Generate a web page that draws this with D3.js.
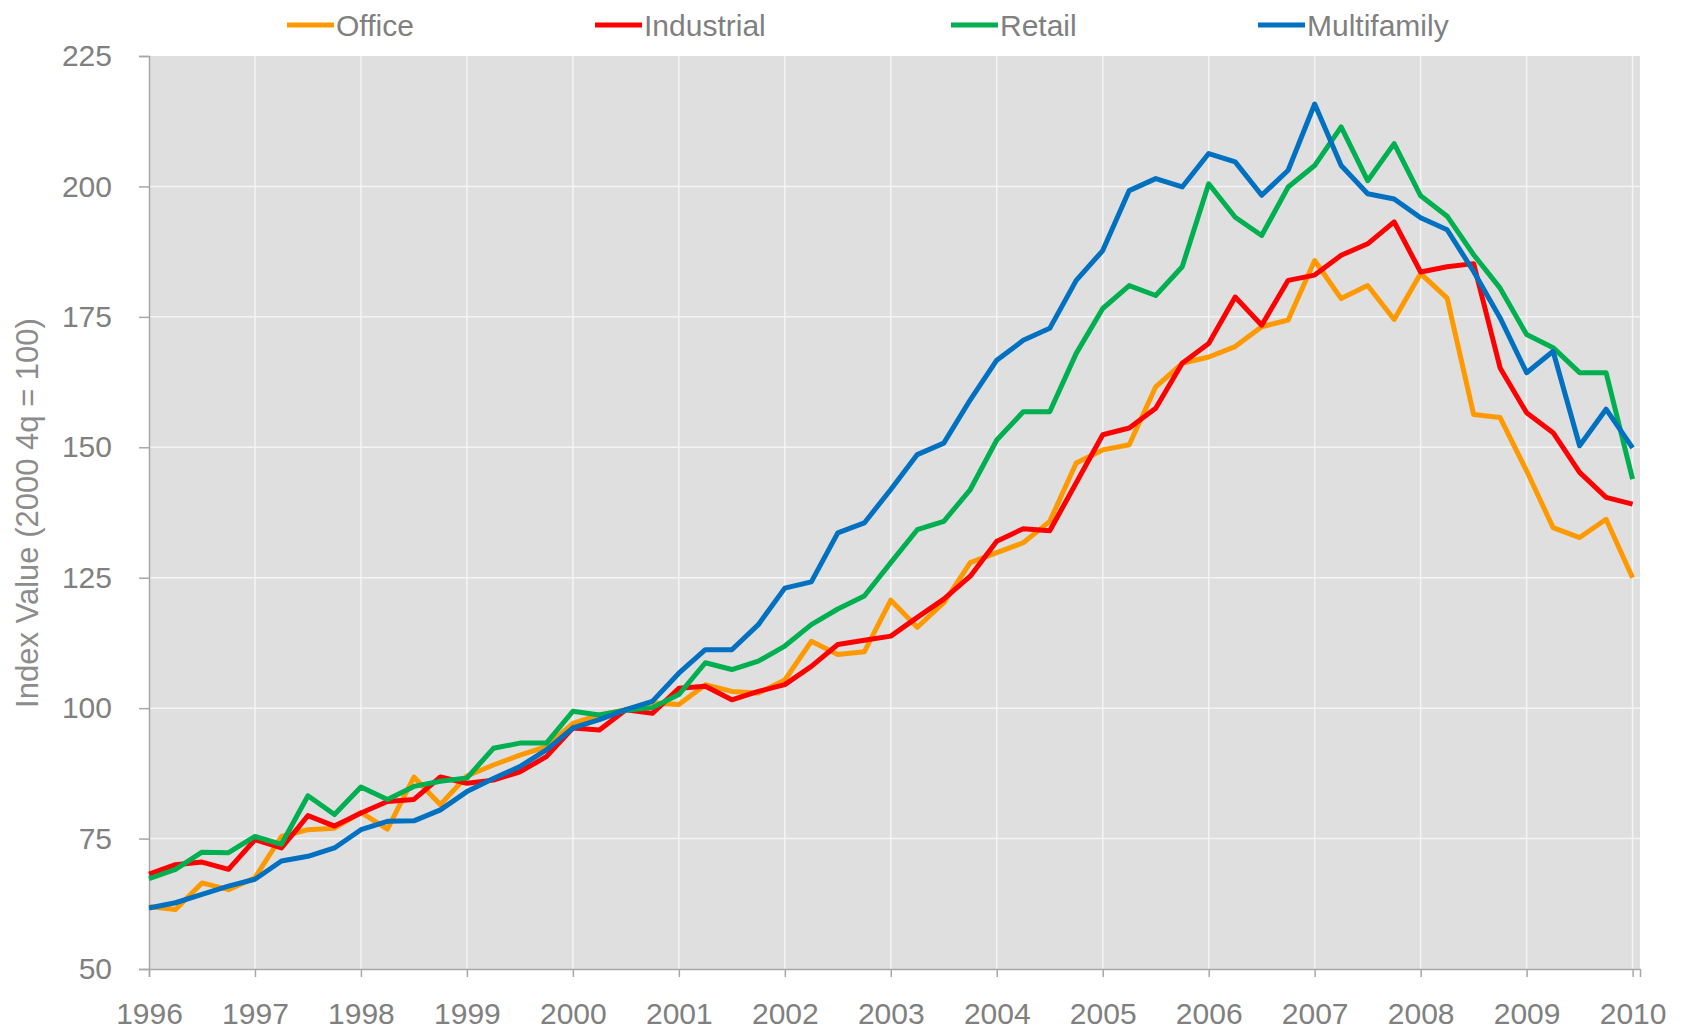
<!DOCTYPE html>
<html>
<head>
<meta charset="utf-8">
<script src="https://cdnjs.cloudflare.com/ajax/libs/d3/7.8.5/d3.min.js"></script>
<style>
  body { margin: 0; background: #fff; }
  text { font-family: "Liberation Sans", Arial, sans-serif; }
</style>
</head>
<body>
<div id="chart"></div>
<script>
// quarterly index values, 1996 Q1 .. 2010 Q1 (2000 4q = 100)
var startYear = 1996;
var yearTicks = [1996, 1997, 1998, 1999, 2000, 2001, 2002, 2003, 2004, 2005, 2006, 2007, 2008, 2009, 2010];
var valueTicks = [50, 75, 100, 125, 150, 175, 200, 225];
var seriesNames = ["Office", "Industrial", "Retail", "Multifamily"];
var seriesColors = ["#ff9900", "#ff0000", "#00b050", "#0070c0"];

var office = [62, 61.4, 66.5, 65.2, 67.5, 75.4, 76.7, 77, 80, 76.8, 86.8, 81.5, 87, 89.1, 91, 92.6,
  97.1, 98.7, 99.7, 101, 100.7, 104.5, 103.2, 102.9, 105.4, 112.8, 110.3, 110.8, 120.7, 115.5, 120.2, 127.9,
  129.8, 131.7, 135.8, 147, 149.5, 150.5, 161.6, 166.1, 167.3, 169.3, 173.1, 174.4, 185.8, 178.5, 181, 174.5,
  183.3, 178.6, 156.3, 155.7, 145.5, 134.6, 132.7, 136.2, 125];
var industrial = [68.2, 70, 70.5, 69.1, 74.8, 73.2, 79.4, 77.4, 79.9, 82.1, 82.5, 86.8, 85.6, 86.2, 87.8, 90.7,
  96.2, 95.8, 99.7, 99, 103.8, 104.2, 101.6, 103.2, 104.5, 108, 112.2, 113, 113.8, 117.4, 120.9, 125.3,
  132, 134.4, 134, 143.2, 152.4, 153.7, 157.5, 166.1, 169.9, 178.8, 173.4, 182, 183, 186.8, 189, 193.2,
  183.6, 184.6, 185.2, 165.2, 156.6, 152.8, 145.2, 140.4, 139.1];
var retail = [67.3, 69.1, 72.4, 72.3, 75.4, 73.9, 83.2, 79.6, 84.9, 82.5, 85, 86, 86.6, 92.3, 93.3, 93.3,
  99.4, 98.7, 99.6, 100.1, 102.6, 108.7, 107.4, 109, 111.9, 116, 119, 121.5, 127.9, 134.2, 135.8, 141.9,
  151.4, 156.8, 156.8, 168, 176.6, 181, 179.1, 184.6, 200.5, 194.1, 190.6, 199.9, 204, 211.4, 201.1, 208.2,
  198.2, 194.3, 186.9, 180.5, 171.6, 169.1, 164.3, 164.3, 143.9];
var multifamily = [61.7, 62.7, 64.3, 65.9, 67.2, 70.7, 71.6, 73.2, 76.7, 78.3, 78.4, 80.5, 84, 86.5, 88.8, 92,
  96.2, 97.8, 99.7, 101.3, 106.7, 111.2, 111.2, 116, 123, 124.2, 133.6, 135.5, 141.9, 148.6, 150.8, 159.1,
  166.7, 170.5, 172.8, 182, 187.7, 199.2, 201.5, 199.9, 206.3, 204.7, 198.3, 203.1, 215.8, 204, 198.6, 197.6,
  194, 191.7, 183.7, 174.8, 164.3, 168.4, 150.3, 157.3, 149.9];

var allSeries = [office, industrial, retail, multifamily];

var W = 1686, H = 1033;
var margin = {top: 56, right: 46, bottom: 64, left: 149},
    width = W - margin.left - margin.right,
    height = H - margin.top - margin.bottom;

var svg = d3.select("#chart")
  .append("svg")
    .attr("width", W)
    .attr("height", H)
  .append("g")
    .attr("transform", "translate(" + margin.left + "," + margin.top + ")");

var x = d3.scaleLinear()
  .domain([1996, 2010.07])
  .range([0, width]);

var y = d3.scaleLinear()
  .domain([50, 225])
  .range([height, 0]);

// plot background
svg.append("rect")
  .attr("width", width)
  .attr("height", height)
  .attr("fill", "#dfdfdf");

// gridlines
svg.append("g").selectAll("line")
  .data(valueTicks.slice(1, -1))
  .enter().append("line")
    .attr("x1", 0).attr("x2", width)
    .attr("y1", function(d) { return y(d); })
    .attr("y2", function(d) { return y(d); })
    .attr("stroke", "#f4f4f4")
    .attr("stroke-width", 1.5);

svg.append("g").selectAll("line")
  .data(yearTicks.slice(1))
  .enter().append("line")
    .attr("y1", 0).attr("y2", height)
    .attr("x1", function(d) { return x(d); })
    .attr("x2", function(d) { return x(d); })
    .attr("stroke", "#f4f4f4")
    .attr("stroke-width", 1.5);

// Y axis
var yAxis = svg.append("g")
  .call(d3.axisLeft(y).tickValues(valueTicks).tickSize(10).tickPadding(27));

// X axis
var xAxis = svg.append("g")
  .attr("transform", "translate(0," + height + ")")
  .call(d3.axisBottom(x).tickValues(yearTicks).tickFormat(d3.format("d")).tickSize(8).tickPadding(26));

[yAxis, xAxis].forEach(function(a) {
  a.select(".domain").attr("stroke", "#a8a8a8").attr("stroke-width", 1.5);
  a.selectAll(".tick line").attr("stroke", "#a8a8a8").attr("stroke-width", 1.5);
  a.selectAll("text")
    .style("font-family", "'Liberation Sans', Arial, sans-serif")
    .style("font-size", "30px")
    .attr("fill", "#808080");
});

// Y axis label
svg.append("text")
  .attr("text-anchor", "middle")
  .attr("transform", "rotate(-90)")
  .attr("x", -(513 - margin.top))
  .attr("y", -margin.left + 38)
  .style("font-size", "31px")
  .attr("fill", "#8c8c8c")
  .text("Index Value (2000 4q = 100)");

// lines
var line = d3.line()
  .x(function(d, i) { return x(startYear + i / 4); })
  .y(function(d) { return y(d); });

svg.selectAll(".series")
  .data(allSeries)
  .enter()
  .append("path")
    .attr("class", "series")
    .attr("d", line)
    .attr("fill", "none")
    .attr("stroke", function(d, i) { return seriesColors[i]; })
    .attr("stroke-width", 5)
    .attr("stroke-linejoin", "round");

// legend
var legendX = [287, 595, 951, 1258];
var legend = d3.select("svg").append("g");
seriesNames.forEach(function(name, i) {
  var g = legend.append("g").attr("transform", "translate(" + legendX[i] + ",25)");
  g.append("line")
    .attr("x1", 0).attr("x2", 47)
    .attr("stroke", seriesColors[i])
    .attr("stroke-width", 5);
  g.append("text")
    .attr("x", 49)
    .attr("y", 10.5)
    .style("font-size", "30px")
    .attr("fill", "#808080")
    .text(name);
});
</script>
</body>
</html>
